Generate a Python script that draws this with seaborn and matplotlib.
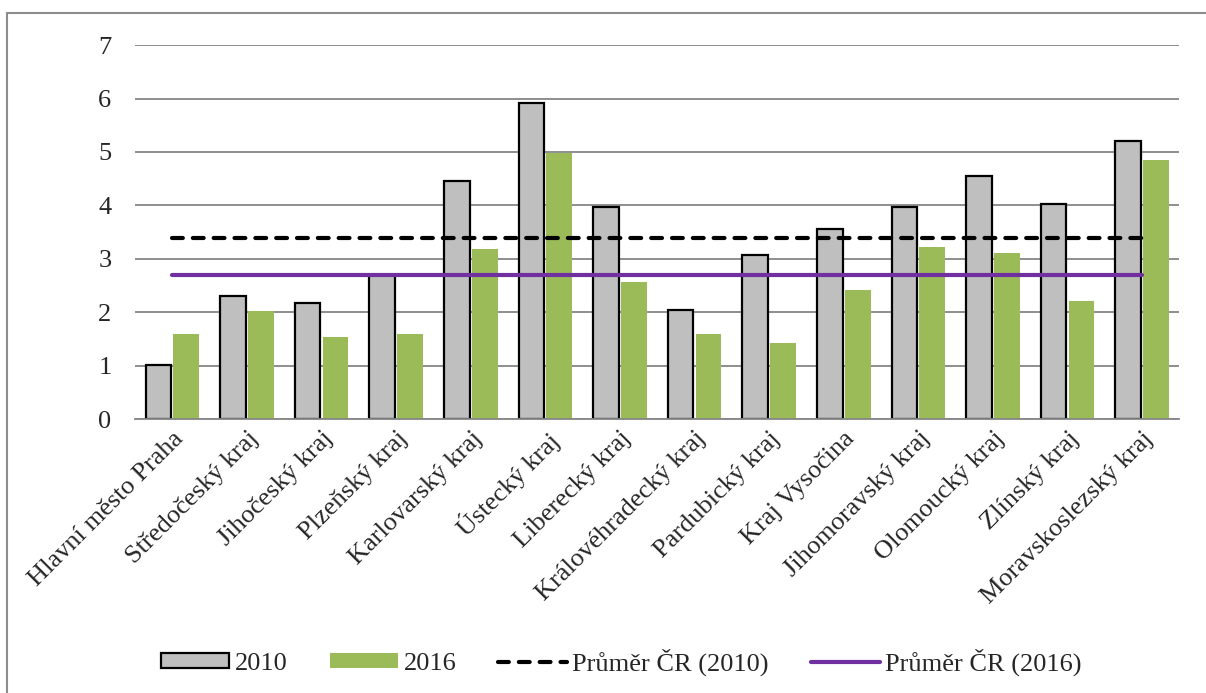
import numpy as np
import pandas as pd
import matplotlib
matplotlib.use('Agg')
import matplotlib.pyplot as plt
import seaborn as sns
from matplotlib.patches import Patch, Rectangle
from matplotlib.lines import Line2D

regions = ['Hlavní město Praha', 'Středočeský kraj', 'Jihočeský kraj', 'Plzeňský kraj',
           'Karlovarský kraj', 'Ústecký kraj', 'Liberecký kraj', 'Královéhradecký kraj',
           'Pardubický kraj', 'Kraj Vysočina', 'Jihomoravský kraj', 'Olomoucký kraj',
           'Zlínský kraj', 'Moravskoslezský kraj']
values_2010 = [1.02, 2.31, 2.18, 2.70, 4.46, 5.92, 3.97, 2.04, 3.07, 3.56, 3.97, 4.55, 4.02, 5.20]
values_2016 = [1.60, 2.02, 1.54, 1.60, 3.19, 4.98, 2.57, 1.60, 1.43, 2.41, 3.22, 3.11, 2.21, 4.85]
avg_2010 = 3.39
avg_2016 = 2.70
years = ['2010', '2016']

df = pd.DataFrame({
    'region': regions * 2,
    'value': values_2010 + values_2016,
    'year': ['2010'] * len(regions) + ['2016'] * len(regions),
})

sns.set_style('white')
plt.rcParams['font.family'] = ['Liberation Serif', 'DejaVu Serif']
plt.rcParams['font.size'] = 19

gray = '#BFBFBF'
green = '#9BBB59'
purple = '#7030A0'

fig = plt.figure(figsize=(12.06, 6.93), dpi=100)
ax = fig.add_axes([0.112, 0.395, 0.866, 0.54])

sns.barplot(data=df, x='region', y='value', hue='year', order=regions, hue_order=years,
            palette=[gray, green], width=0.75, gap=0.08, ax=ax, legend=False, saturation=1)

for bar in ax.containers[0]:
    bar.set_edgecolor('black')
    bar.set_linewidth(1.6)
for bar in ax.containers[1]:
    bar.set_edgecolor('none')

# national averages, drawn across category centres
pos = np.arange(len(regions))
ax.plot(pos, [avg_2010] * len(regions), color='black', lw=3, ls=(0, (2.6, 2.4)),
        dash_capstyle='round', zorder=4)
ax.plot(pos, [avg_2016] * len(regions), color=purple, lw=3, solid_capstyle='round', zorder=4)

ax.set_xlim(-0.5, len(regions) - 0.5)
ax.set_ylim(0, 7)
ax.set_yticks(range(8))
ax.yaxis.grid(True, color='#868686', lw=1.3)
ax.set_axisbelow(True)
for s in ['top', 'right', 'left']:
    ax.spines[s].set_visible(False)
ax.spines['bottom'].set_color('#868686')
ax.spines['bottom'].set_linewidth(1.3)
ax.tick_params(axis='both', length=0, labelsize=19)
ax.tick_params(axis='y', pad=17)
ax.set_xlabel('')
ax.set_ylabel('')
plt.setp(ax.get_xticklabels(), rotation=45, ha='right', rotation_mode='anchor')
ax.tick_params(axis='x', pad=6)

handles = [
    Patch(facecolor=gray, edgecolor='black', lw=1.6),
    Patch(facecolor=green, edgecolor='none'),
    Line2D([0], [0], color='black', lw=3, ls=(0, (2.6, 2.4)), dash_capstyle='round'),
    Line2D([0], [0], color=purple, lw=3, solid_capstyle='round'),
]
labels = ['2010', '2016', 'Průměr ČR (2010)', 'Průměr ČR (2016)']
fig.legend(handles, labels, loc='center', bbox_to_anchor=(0.515, 0.045), ncol=4,
           frameon=False, fontsize=19, handlelength=2.6, handletextpad=0.2,
           columnspacing=1.6, handleheight=0.5)

fig.patches.append(Rectangle((7 / 1206, -0.05), 1.1, 0.05 + 1 - 13 / 693,
                             transform=fig.transFigure, fill=False,
                             edgecolor='#8C8C8C', lw=1.5))

fig.savefig('out.png', dpi=100)
